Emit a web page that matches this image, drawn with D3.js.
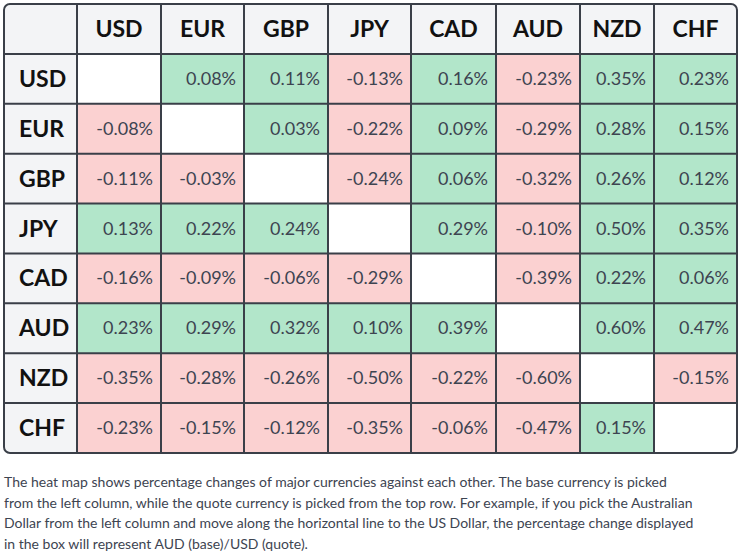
<!DOCTYPE html><html><head><meta charset="utf-8">
<script src="https://cdn.jsdelivr.net/npm/d3@7"></script>
<style>body{margin:0;background:#fff;font-family:Lato,sans-serif}</style></head><body>
<svg id="c" width="738" height="556"></svg>
<script>
const currencies=["USD","EUR","GBP","JPY","CAD","AUD","NZD","CHF"];
const values=[
[null,0.08,0.11,-0.13,0.16,-0.23,0.35,0.23],
[-0.08,null,0.03,-0.22,0.09,-0.29,0.28,0.15],
[-0.11,-0.03,null,-0.24,0.06,-0.32,0.26,0.12],
[0.13,0.22,0.24,null,0.29,-0.10,0.50,0.35],
[-0.16,-0.09,-0.06,-0.29,null,-0.39,0.22,0.06],
[0.23,0.29,0.32,0.10,0.39,null,0.60,0.47],
[-0.35,-0.28,-0.26,-0.50,-0.22,-0.60,null,-0.15],
[-0.23,-0.15,-0.12,-0.35,-0.06,-0.47,0.15,null]];
const notes=["The heat map shows percentage changes of major currencies against each other. The base currency is picked",
"from the left column, while the quote currency is picked from the top row. For example, if you pick the Australian",
"Dollar from the left column and move along the horizontal line to the US Dollar, the percentage change displayed",
"in the box will represent AUD (base)/USD (quote)."];
const svg=d3.select("#c");
const colEdges=[77,161,244,328,411,496,580,654,737];
const L=4,T=4,B=453;
const y=d3.scaleBand().domain(["",...currencies]).range([T,B]);
const color=v=>v==null?"#fff":v>0?"#b2e6ca":"#fbd1d1";
svg.append("rect").attr("x",L).attr("y",T).attr("width",733).attr("height",B-T).attr("rx",6).attr("fill","#f3f4f6");
values.forEach((row,i)=>row.forEach((v,j)=>{
  const x0=colEdges[j],x1=colEdges[j+1],yy=y(currencies[i]);
  svg.append("rect").attr("x",x0).attr("y",yy).attr("width",x1-x0).attr("height",y.bandwidth()).attr("fill",color(v));
  if(v!=null)svg.append("text").attr("x",x1-8).attr("y",yy+y.bandwidth()/2+6).attr("text-anchor","end")
    .attr("font-size",18).attr("fill","#3d4451").text(v.toFixed(2)+"%");
}));
currencies.forEach((c,j)=>{
  svg.append("text").attr("x",(colEdges[j]+colEdges[j+1])/2).attr("y",y("")+y.bandwidth()/2+8).attr("text-anchor","middle")
   .attr("font-size",23).attr("font-weight","bold").attr("fill","#111").text(c);
  svg.append("text").attr("x",19).attr("y",y(c)+y.bandwidth()/2+8).attr("text-anchor","start")
   .attr("font-size",23).attr("font-weight","bold").attr("fill","#111").text(c);
});
const g="#3a3f48";
colEdges.slice(0,-1).forEach(x=>svg.append("line").attr("x1",x).attr("x2",x).attr("y1",T).attr("y2",B).attr("stroke",g).attr("stroke-width",2));
currencies.forEach(c=>svg.append("line").attr("x1",L).attr("x2",737).attr("y1",y(c)).attr("y2",y(c)).attr("stroke",g).attr("stroke-width",2));
svg.append("rect").attr("x",L).attr("y",T).attr("width",733).attr("height",B-T).attr("rx",6).attr("fill","none").attr("stroke",g).attr("stroke-width",2);
notes.forEach((t,i)=>svg.append("text").attr("x",4).attr("y",487+i*20.5).attr("font-size",14).attr("fill","#3d4451").text(t));
</script></body></html>
